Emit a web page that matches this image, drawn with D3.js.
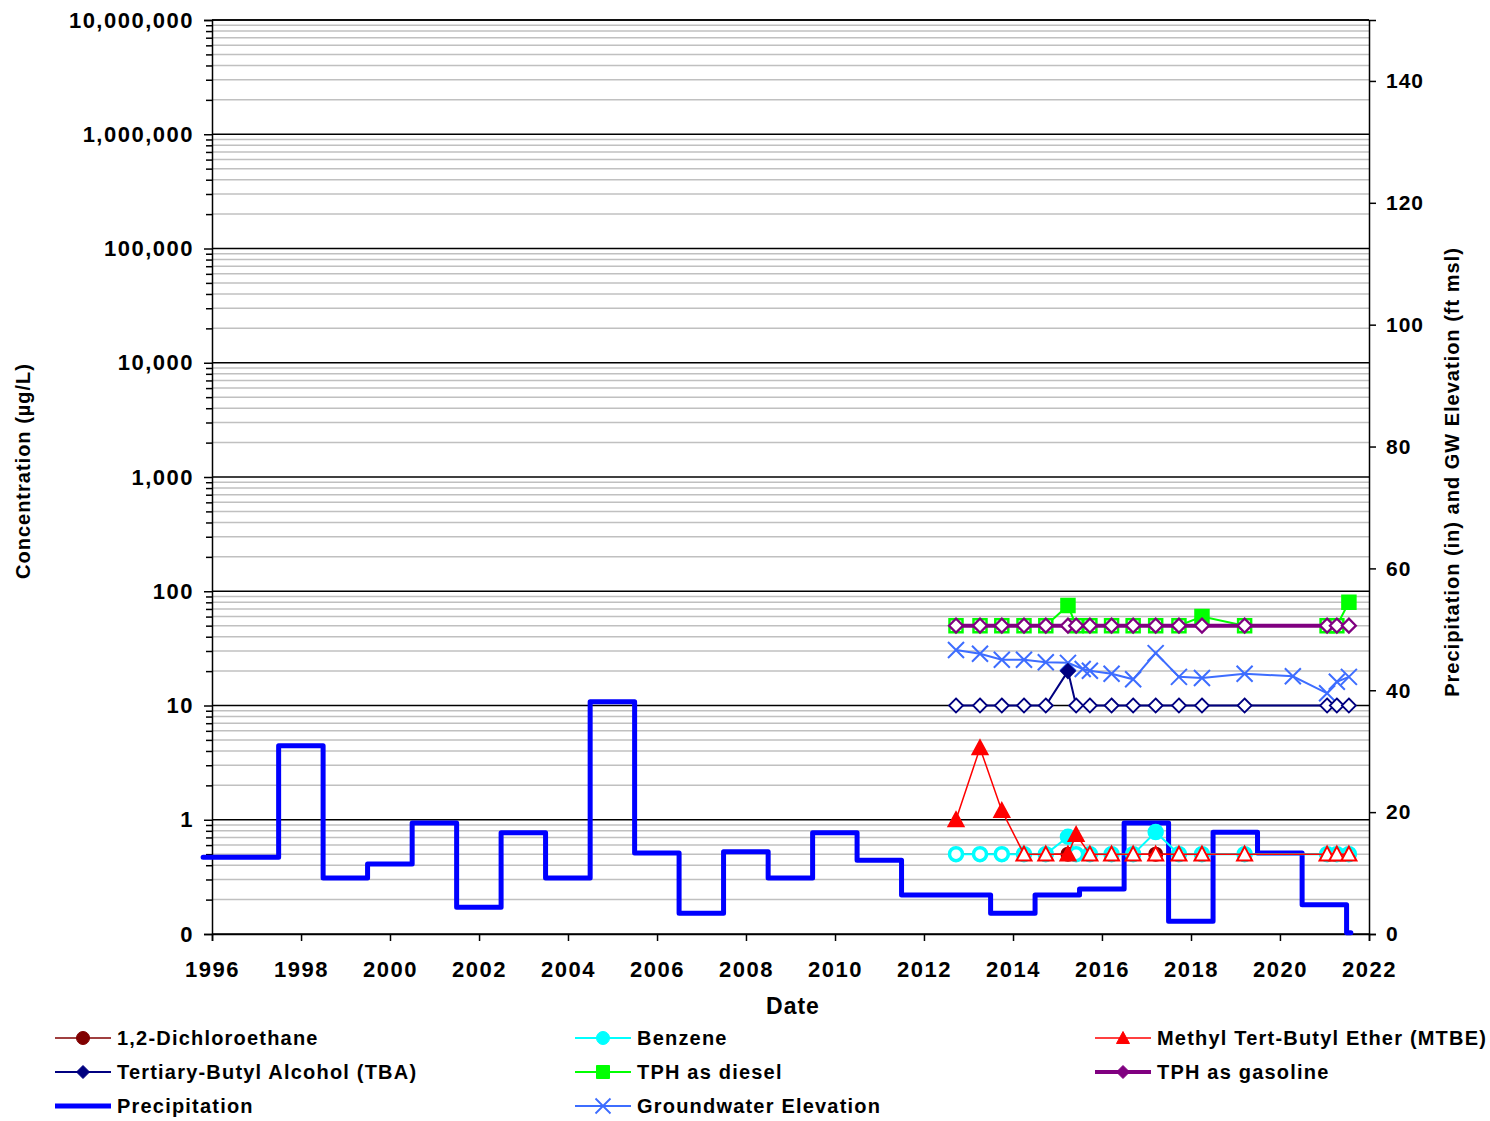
<!DOCTYPE html>
<html>
<head>
<meta charset="utf-8">
<script src="https://cdn.jsdelivr.net/npm/d3@7"></script>
<style>
  body { margin: 0; background: #fff; }
  text { font-family: Arial, "Liberation Sans", sans-serif; font-weight: bold; fill: #000; }
</style>
</head>
<body>
<svg id="chart" width="1490" height="1121"></svg>
<script>
// ---- Data -------------------------------------------------------------
const sampleDates = ["2012-09-20","2013-04-05","2013-10-01","2014-04-01","2014-09-27",
  "2015-03-28","2015-06-03","2015-09-24","2016-03-20","2016-09-13","2017-03-17",
  "2017-09-24","2018-04-01","2019-03-17","2021-01-22","2021-04-12","2021-07-20"];

const gwDates = ["2012-09-20","2013-04-05","2013-10-01","2014-04-01","2014-09-27",
  "2015-03-28","2015-07-27","2015-09-24","2016-03-20","2016-09-13","2017-03-17",
  "2017-09-24","2018-04-01","2019-03-17","2020-04-16","2021-01-22","2021-04-12","2021-07-20"];

// concentrations (µg/L); detected flags: 1 = detected, 0 = reporting limit (non-detect)
const dcaValues     = [0.5,0.5,0.5,0.5,0.5,0.5,0.5,0.5,0.5,0.5,0.5,0.5,0.5,0.5,0.5,0.5,0.5];
const dcaDetected   = [0,0,0,0,0,1,0,0,0,0,1,0,0,0,0,0,0];
const benzValues    = [0.5,0.5,0.5,0.5,0.5,0.71,0.5,0.5,0.5,0.5,0.78,0.5,0.5,0.5,0.5,0.5,0.5];
const benzDetected  = [0,0,0,0,0,1,0,0,0,0,1,0,0,0,0,0,0];
const mtbeValues    = [1.0,4.25,1.2,0.5,0.5,0.5,0.74,0.5,0.5,0.5,0.5,0.5,0.5,0.5,0.5,0.5,0.5];
const mtbeDetected  = [1,1,1,0,0,1,1,0,0,0,0,0,0,0,0,0,0];
const tbaValues     = [10,10,10,10,10,20,10,10,10,10,10,10,10,10,10,10,10];
const tbaDetected   = [0,0,0,0,0,1,0,0,0,0,0,0,0,0,0,0,0];
const tphdValues    = [50,50,50,50,50,75,50,50,50,50,50,50,60,50,50,50,80];
const tphdDetected  = [0,0,0,0,0,1,0,0,0,0,0,0,1,0,0,0,1];
const tphgValues    = [50,50,50,50,50,50,50,50,50,50,50,50,50,50,50,50,50];
const tphgDetected  = [0,0,0,0,0,0,0,0,0,0,0,0,0,0,0,0,0];

// groundwater elevation (ft msl)
const gwValues = [46.6,46.0,45.0,45.0,44.6,44.5,43.5,43.2,42.7,41.8,46.1,42.2,42.0,42.7,42.3,39.5,41.4,42.2];

// annual precipitation (in), each value holds from its date to the next
const precipDates = ["1995-10-20","1997-07-01","1998-07-01","1999-07-01","2000-07-01","2001-07-01",
  "2002-07-01","2003-07-01","2004-07-01","2005-07-01","2006-07-01","2007-07-01","2008-07-01",
  "2009-07-01","2010-07-01","2011-07-01","2012-07-01","2013-07-01","2014-07-01","2015-07-01",
  "2016-07-01","2017-07-01","2018-07-01","2019-07-01","2020-07-01","2021-07-01","2021-08-05"];
const precipValues = [12.6,30.9,9.2,11.5,18.2,4.4,16.6,9.2,38.1,13.3,3.4,13.5,9.2,
  16.6,12.1,6.4,6.4,3.4,6.4,7.4,18.2,2.1,16.7,13.3,4.8,0.2,0.2];

const concTicks = [0.1,1,10,100,1000,10000,100000,1000000,10000000];
const elevTicks = [0,20,40,60,80,100,120,140];
const yearTicks = [1996,1998,2000,2002,2004,2006,2008,2010,2012,2014,2016,2018,2020,2022];

// ---- Layout -----------------------------------------------------------
const parse = d3.timeParse("%Y-%m-%d");
const L = 212, R = 1369, T = 20, B = 934;

const svg = d3.select("#chart");
const x = d3.scaleTime().domain([new Date(1996,0,1), new Date(2022,0,1)]).range([L, R]);
const yC = d3.scaleLog().domain([0.1, 1e7]).range([B, T]);
const yE = d3.scaleLinear().domain([0, 150]).range([B, T]);

// gridlines
const minorVals = [];
concTicks.slice(0, -1).forEach(d => { for (let m = 2; m <= 9; m++) minorVals.push(d * m); });
const grid = svg.append("g");
grid.selectAll("line.minor").data(minorVals).join("line")
  .attr("x1", L).attr("x2", R).attr("y1", d => yC(d)).attr("y2", d => yC(d))
  .attr("stroke", "#c0c0c0").attr("stroke-width", 1.5);
grid.selectAll("line.major").data(concTicks).join("line")
  .attr("x1", L).attr("x2", R).attr("y1", d => yC(d)).attr("y2", d => yC(d))
  .attr("stroke", "#000").attr("stroke-width", 1.5);

// left axis
const leftAxis = svg.append("g").attr("transform", `translate(${L},0)`)
  .call(d3.axisLeft(yC).tickValues(concTicks).tickFormat(d3.format(",.0f")).tickSize(8).tickPadding(10));
svg.append("g").attr("transform", `translate(${L},0)`)
  .call(d3.axisLeft(yC).tickValues(minorVals).tickFormat("").tickSize(6))
  .call(g => g.select(".domain").remove())
  .selectAll("line").attr("stroke", "#000").attr("stroke-width", 1.5);
leftAxis.selectAll("text").style("font-size", "22px").style("letter-spacing", "1.5px");

// right axis
const rightAxis = svg.append("g").attr("transform", `translate(${R},0)`)
  .call(d3.axisRight(yE).tickValues(elevTicks).tickSize(7).tickPadding(10));
rightAxis.selectAll("text").style("font-size", "21px").style("letter-spacing", "1px");

// bottom axis
const bottomAxis = svg.append("g").attr("transform", `translate(0,${B})`)
  .call(d3.axisBottom(x).tickValues(yearTicks.map(y => new Date(y,0,1)))
    .tickFormat(d3.timeFormat("%Y")).tickSize(7).tickPadding(20));
bottomAxis.selectAll("text").style("font-size", "22px").style("letter-spacing", "1.5px");

[leftAxis, rightAxis, bottomAxis].forEach(g => {
  g.attr("font-family", null).attr("font-size", null);
  g.selectAll(".domain, line").attr("stroke", "#000").attr("stroke-width", 1.5);
});
// top frame line
svg.append("line").attr("x1", L).attr("x2", R).attr("y1", T).attr("y2", T)
  .attr("stroke", "#000").attr("stroke-width", 1.5);

// axis titles
svg.append("text").attr("transform", "translate(30,471) rotate(-90)")
  .attr("text-anchor", "middle").style("font-size", "20px").style("letter-spacing", "1px")
  .text("Concentration (µg/L)");
svg.append("text").attr("transform", "translate(1459,472) rotate(-90)")
  .attr("text-anchor", "middle").style("font-size", "20px").style("letter-spacing", "1px")
  .text("Precipitation (in) and GW Elevation (ft msl)");
svg.append("text").attr("x", 793).attr("y", 1014)
  .attr("text-anchor", "middle").style("font-size", "23px").style("letter-spacing", "1px")
  .text("Date");

// ---- Marker shapes ----------------------------------------------------
const shapes = {
  circle:   s => `M${s},0A${s},${s} 0 1,1 ${-s},0A${s},${s} 0 1,1 ${s},0Z`,
  diamond:  s => `M0,${-s}L${s},0L0,${s}L${-s},0Z`,
  square:   s => `M${-s},${-s}H${s}V${s}H${-s}Z`,
  triangle: s => `M0,${-s}L${s},${s*0.85}L${-s},${s*0.85}Z`,
  cross:    s => `M${-s},${-s}L${s},${s}M${-s},${s}L${s},${-s}`
};

const series = [
  { name: "1,2-Dichloroethane", color: "#800000", shape: "circle", size: 6.5, mw: 2, lw: 1.5,
    dates: sampleDates, values: dcaValues, detected: dcaDetected, axis: "c" },
  { name: "Benzene", color: "#00FFFF", shape: "circle", size: 6.5, mw: 3.5, lw: 2,
    dates: sampleDates, values: benzValues, detected: benzDetected, axis: "c" },
  { name: "Methyl Tert-Butyl Ether (MTBE)", color: "#FF0000", shape: "triangle", size: 7.5, mw: 2, lw: 1.5,
    dates: sampleDates, values: mtbeValues, detected: mtbeDetected, axis: "c" },
  { name: "Tertiary-Butyl Alcohol (TBA)", color: "#000080", shape: "diamond", size: 7, mw: 1.8, lw: 2,
    dates: sampleDates, values: tbaValues, detected: tbaDetected, axis: "c" },
  { name: "TPH as diesel", color: "#00FF00", shape: "square", size: 6.5, mw: 2.5, lw: 2,
    dates: sampleDates, values: tphdValues, detected: tphdDetected, axis: "c" },
  { name: "TPH as gasoline", color: "#800080", shape: "diamond", size: 7, mw: 2.2, lw: 4,
    dates: sampleDates, values: tphgValues, detected: tphgDetected, axis: "c" },
  { name: "Precipitation", color: "#0000FF", shape: null, lw: 5,
    dates: precipDates, values: precipValues, axis: "e" },
  { name: "Groundwater Elevation", color: "#3D6DFF", shape: "cross", size: 8, mw: 2, lw: 2,
    dates: gwDates, values: gwValues, axis: "e" }
];

const plot = svg.append("g");

// precipitation and groundwater (secondary axis) beneath the concentration series
const precip = series[6];
plot.append("path")
  .datum(precip.dates.map((d, i) => [parse(d), precip.values[i]]))
  .attr("fill", "none").attr("stroke", precip.color).attr("stroke-width", precip.lw)
  .attr("stroke-linejoin", "round").attr("stroke-linecap", "round")
  .attr("d", d3.line().x(d => x(d[0])).y(d => yE(d[1])).curve(d3.curveStepAfter));

function drawSeries(s) {
  const y = s.axis === "c" ? yC : yE;
  const pts = s.dates.map((d, i) => ({ t: parse(d), v: s.values[i], det: s.detected ? s.detected[i] : 1 }));
  const g = plot.append("g");
  g.append("path").datum(pts)
    .attr("fill", "none").attr("stroke", s.color).attr("stroke-width", s.lw)
    .attr("d", d3.line().x(d => x(d.t)).y(d => y(d.v)));
  g.selectAll("path.m").data(pts).join("path").attr("class", "m")
    .attr("transform", d => `translate(${x(d.t)},${y(d.v)})`)
    .attr("d", shapes[s.shape](s.size))
    .attr("fill", d => s.shape === "cross" ? "none" : (d.det ? s.color : "#fff"))
    .attr("stroke", s.color).attr("stroke-width", s.mw);
}
drawSeries(series[7]);
series.slice(0, 6).forEach(drawSeries);

// ---- Legend -----------------------------------------------------------
const legendCols = [55, 575, 1095];
const legendRows = [1038, 1072, 1106];
const legend = svg.append("g");
series.forEach((s, i) => {
  const cx = legendCols[i % 3], cy = legendRows[Math.floor(i / 3)];
  const g = legend.append("g").attr("transform", `translate(${cx},${cy})`);
  g.append("line").attr("x1", 0).attr("x2", 56).attr("y1", 0).attr("y2", 0)
    .attr("stroke", s.color).attr("stroke-width", s.lw);
  if (s.shape) {
    g.append("path").attr("transform", "translate(28,0)")
      .attr("d", shapes[s.shape](s.shape === "cross" ? 7.5 : 6.5))
      .attr("fill", s.shape === "cross" ? "none" : s.color)
      .attr("stroke", s.color).attr("stroke-width", s.shape === "cross" ? 1.8 : 1);
  }
  g.append("text").attr("x", 62).attr("dy", "0.36em")
    .style("font-size", "20px").style("letter-spacing", "1.2px").text(s.name);
});
</script>
</body>
</html>
